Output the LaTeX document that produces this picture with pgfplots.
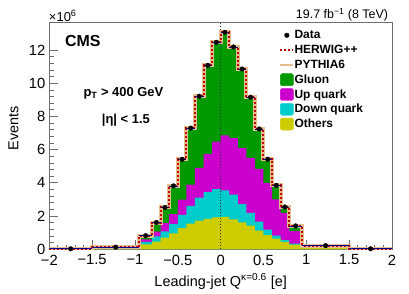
\documentclass[border=0pt]{standalone}
\usepackage{fontspec}
\setmainfont{Liberation Sans}
\usepackage{pgfplots}
\usepackage{pgfplotstable}
\pgfplotsset{compat=1.18}
\definecolor{cGluon}{RGB}{0,153,0}
\definecolor{cUp}{RGB}{204,0,204}
\definecolor{cDown}{RGB}{0,204,204}
\definecolor{cOther}{RGB}{204,204,0}
\definecolor{cHerwig}{RGB}{190,0,0}
\definecolor{cPythia}{RGB}{228,190,140}
\definecolor{cFrame}{RGB}{110,110,110}

% bin left edges (last row repeats last bin); cumulative stacked tops
\pgfplotstableread{
x      oth   dwn   up    tot
-2     0.02  0.03  0.03  0.04
-1.5   0.06  0.08  0.10  0.13
-0.95  0.29  0.45  0.60  0.82
-0.8   0.46  0.78  1.06  1.60
-0.7   0.70  1.08  1.57  2.52
-0.6   0.96  1.53  2.12  3.82
-0.5   1.27  2.07  2.99  5.42
-0.4   1.54  2.61  3.90  7.30
-0.3   1.72  3.12  4.90  9.22
-0.2   1.84  3.45  5.73  11.08
-0.1   1.93  3.63  6.48  12.47
0      1.95  3.55  6.87  13.07
0.1    1.80  3.30  6.69  12.19
0.2    1.62  2.72  6.10  10.86
0.3    1.42  2.20  5.50  9.16
0.4    1.13  1.67  4.85  7.25
0.5    0.86  1.18  4.00  5.43
0.6    0.65  0.83  3.00  3.85
0.7    0.45  0.56  2.20  2.55
0.8    0.28  0.34  1.10  1.41
0.95   0.09  0.12  0.17  0.22
1.5    0.02  0.03  0.03  0.03
2      0.02  0.03  0.03  0.03
}\hist

\pgfplotstableread{
x       y      ex
-1.75   0.03   0.25
-1.225  0.13   0.275
-0.875  0.82   0.075
-0.75   1.62   0.05
-0.65   2.52   0.05
-0.55   3.82   0.05
-0.45   5.42   0.05
-0.35   7.30   0.05
-0.25   9.22   0.05
-0.15   11.08  0.05
-0.05   12.47  0.05
0.05    13.07  0.05
0.15    12.19  0.05
0.25    10.86  0.05
0.35    9.16   0.05
0.45    7.25   0.05
0.55    5.43   0.05
0.65    3.85   0.05
0.75    2.55   0.05
0.875   1.41   0.075
1.225   0.22   0.275
1.75    0.03   0.25
}\data

\begin{document}
\begin{tikzpicture}
\path[use as bounding box] (-49.3bp,-44.7bp) rectangle (359.7bp,249.3bp);
\begin{axis}[
  at={(0,0)}, anchor=south west,
  scale only axis, width=342.7bp, height=226.6bp,
  xmin=-2, xmax=2, ymin=0, ymax=13.65,
  axis line style={draw=cFrame, line width=0.9bp},
  tick style={draw=cFrame, line width=0.8bp},
  tick align=inside,
  xtick pos=bottom, ytick pos=left,
  major tick length=9bp, minor tick length=4.5bp,
  xtick={-2,-1.5,-1,-0.5,0,0.5,1,1.5,2},
  xticklabels={−2,−1.5,−1,−0.5,0,0.5,1,1.5,2},
  minor x tick num=4,
  ytick={0,2,4,6,8,10,12},
  yticklabels={0,2,4,6,8,10,12},
  minor y tick num=4,
  tick label style={font=\fontsize{14.8}{15}\selectfont},
  xticklabel style={yshift=-2bp},
  yticklabel style={xshift=-0.5bp},
  xlabel={Leading-jet Q\textsuperscript{κ=0.6} [e]},
  xlabel style={at={(axis description cs:0.5,0)}, anchor=base, yshift=-36.7bp, font=\fontsize{14.5}{15}\selectfont},
  legend cell align=left,
  legend style={at={(axis description cs:0.670,0.978)}, anchor=north west, draw=none, fill=none,
    font=\fontsize{12}{12}\selectfont\bfseries, inner sep=0pt, row sep=0pt,
    nodes={inner sep=0pt, minimum height=14.8bp},
    /tikz/every even column/.append style={column sep=3bp}},
]
\addlegendimage{legend image code/.code={\fill[black] (6.5bp,0) circle (2.3bp);}}
\addlegendentry{Data}
\addlegendimage{legend image code/.code={\draw[cHerwig, line width=2.2bp, dash pattern=on 2bp off 2bp] (0bp,0) -- (13bp,0);}}
\addlegendentry{HERWIG++}
\addlegendimage{legend image code/.code={\draw[cPythia, line width=2.5bp] (0bp,0) -- (13bp,0);}}
\addlegendentry{PYTHIA6}
\addlegendimage{legend image code/.code={\fill[cGluon, rounded corners=1.5bp] (0bp,-6bp) rectangle (13bp,6bp);}}
\addlegendentry{Gluon}
\addlegendimage{legend image code/.code={\fill[cUp, rounded corners=1.5bp] (0bp,-6bp) rectangle (13bp,6bp);}}
\addlegendentry{Up quark}
\addlegendimage{legend image code/.code={\fill[cDown, rounded corners=1.5bp] (0bp,-6bp) rectangle (13bp,6bp);}}
\addlegendentry{Down quark}
\addlegendimage{legend image code/.code={\fill[cOther, rounded corners=1.5bp] (0bp,-6bp) rectangle (13bp,6bp);}}
\addlegendentry{Others}

\addplot[const plot, fill=cGluon, draw=none, forget plot] table[x=x, y=tot] {\hist} \closedcycle;
\addplot[const plot, fill=cUp, draw=none, forget plot] table[x=x, y=up] {\hist} \closedcycle;
\addplot[const plot, fill=cDown, draw=none, forget plot] table[x=x, y=dwn] {\hist} \closedcycle;
\addplot[const plot, fill=cOther, draw=none, forget plot] table[x=x, y=oth] {\hist} \closedcycle;
\addplot[black!80, line width=0.6bp, dash pattern=on 1.5bp off 1.5bp, forget plot] coordinates {(0,0) (0,13.65)};
\addplot[const plot, cPythia, line width=4bp, forget plot] table[x=x, y=tot] {\hist};
\addplot[const plot, cHerwig, line width=2bp, dash pattern=on 2bp off 2bp, forget plot] table[x=x, y=tot] {\hist};
\addplot[only marks, mark=*, mark size=2.3bp, black, forget plot,
  error bars/.cd, x dir=both, x explicit, error mark=none,
  error bar style={blue!60!black, line width=0.7bp}]
  table[x=x, y=y, x error=ex] {\data};
\end{axis}
\node[rotate=90, anchor=center, inner sep=0pt] at (-35.8bp,121.3bp) {\fontsize{14.5}{15}\selectfont Events};
\node[anchor=base west, inner sep=0pt] at (15.7bp,202.6bp) {\fontsize{16}{16}\selectfont\bfseries CMS};
\node[anchor=base west, inner sep=0pt] at (34bp,152.6bp) {\fontsize{13}{13}\selectfont\bfseries p\textsubscript{T} > 400 GeV};
\node[anchor=base west, inner sep=0pt] at (52.4bp,126bp) {\fontsize{13}{13}\selectfont\bfseries |η| < 1.5};
\node[anchor=base west, inner sep=0pt] at (-0.5bp,228bp) {\fontsize{13}{13}\selectfont ×10\textsuperscript{6}};
\node[anchor=base east, inner sep=0pt] at (339bp,230.3bp) {\fontsize{12.5}{13}\selectfont 19.7 fb\textsuperscript{−1} (8 TeV)};
\end{tikzpicture}
\end{document}
